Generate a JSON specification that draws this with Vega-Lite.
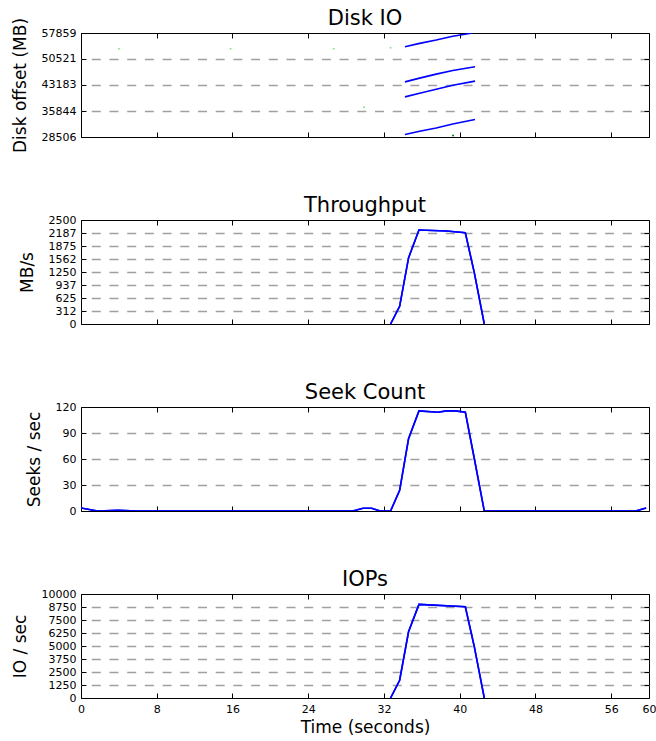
{
  "$schema": "https://vega.github.io/schema/vega-lite/v6.json",
  "padding": {"left": 10, "top": 7, "right": 0, "bottom": 2},
  "bounds": "flush",
  "spacing": 83,
  "config": {
    "font": "DejaVu Sans",
    "view": {"stroke": "#000000", "strokeWidth": 1},
    "axis": {
      "domain": false,
      "tickColor": "#000000",
      "tickSize": -5,
      "tickWidth": 1,
      "labelColor": "#000000",
      "labelFontSize": 11,
      "labelPadding": 10,
      "labelOverlap": false,
      "labelFlush": false,
      "titleFontSize": 17,
      "titleFontWeight": "normal",
      "titleColor": "#000000",
      "titlePadding": 12,
      "gridColor": "#a0a0a0",
      "gridDash": [9, 8.7],
      "gridWidth": 1.4,
      "gridOpacity": 1
    },
    "axisX": {"labelPadding": 10, "titlePadding": 5},
    "title": {"fontSize": 21, "fontWeight": "normal", "color": "#000000", "offset": -2}
  },
  "datasets": {
    "disk": [
      {"t": 34.22, "mb": 29185, "seg": 1}, {"t": 35.77, "mb": 30119, "seg": 1}, {"t": 37.52, "mb": 31053, "seg": 1}, {"t": 39.27, "mb": 32185, "seg": 1}, {"t": 41.62, "mb": 33430, "seg": 1},
      {"t": 34.22, "mb": 39826, "seg": 2}, {"t": 35.77, "mb": 40873, "seg": 2}, {"t": 37.52, "mb": 42005, "seg": 2}, {"t": 39.27, "mb": 43137, "seg": 2}, {"t": 41.62, "mb": 44270, "seg": 2},
      {"t": 34.22, "mb": 44071, "seg": 3}, {"t": 35.77, "mb": 45118, "seg": 3}, {"t": 37.52, "mb": 46250, "seg": 3}, {"t": 39.27, "mb": 47297, "seg": 3}, {"t": 41.62, "mb": 48316, "seg": 3},
      {"t": 34.22, "mb": 53976, "seg": 4}, {"t": 35.77, "mb": 54938, "seg": 4}, {"t": 37.52, "mb": 55872, "seg": 4}, {"t": 39.27, "mb": 56919, "seg": 4}, {"t": 41.2, "mb": 57768, "seg": 4}
    ],
    "dots": [
      {"t": 4.0, "mb": 53410, "kind": "light"}, {"t": 15.8, "mb": 53410, "kind": "light"}, {"t": 26.7, "mb": 53410, "kind": "light"},
      {"t": 32.7, "mb": 53700, "kind": "light"}, {"t": 29.9, "mb": 36911, "kind": "light"}, {"t": 39.3, "mb": 28900, "kind": "dark"}
    ],
    "tp": [
      {"t": 32.7, "v": 0}, {"t": 33.66, "v": 426}, {"t": 34.6, "v": 1590}, {"t": 35.7, "v": 2258}, {"t": 38.6, "v": 2234}, {"t": 40.6, "v": 2193}, {"t": 41.55, "v": 1229}, {"t": 42.6, "v": 0}
    ],
    "seek": [
      {"t": 0, "v": 3.45}, {"t": 1.75, "v": 0}, {"t": 3.9, "v": 0.8}, {"t": 6, "v": 0}, {"t": 28.7, "v": 0}, {"t": 29.8, "v": 3.1}, {"t": 30.7, "v": 3.1}, {"t": 31.6, "v": 0}, {"t": 32.7, "v": 0},
      {"t": 33.66, "v": 23.8}, {"t": 34.6, "v": 83.3}, {"t": 35.7, "v": 115.5}, {"t": 37.7, "v": 113.9}, {"t": 38.6, "v": 115.5}, {"t": 39.55, "v": 115.5}, {"t": 40.6, "v": 113.9},
      {"t": 41.55, "v": 60.3}, {"t": 42.6, "v": 0}, {"t": 58.6, "v": 0}, {"t": 59.7, "v": 3.45}
    ],
    "iops": [
      {"t": 32.7, "v": 0}, {"t": 33.66, "v": 1706}, {"t": 34.6, "v": 6362}, {"t": 35.7, "v": 9004}, {"t": 40.6, "v": 8772}, {"t": 41.55, "v": 4916}, {"t": 42.6, "v": 0}
    ]
  },
  "vconcat": [
    {
      "title": {"text": "Disk IO", "offset": -12},
      "width": 568, "height": 104,
      "layer": [
        {
          "data": {"name": "disk"},
          "mark": {"type": "line", "color": "#0000ff", "strokeWidth": 1.6, "clip": true},
          "encoding": {
            "x": {"field": "t", "type": "quantitative", "scale": {"domain": [0, 60], "nice": false, "zero": false},
                  "axis": {"orient": "bottom", "values": [0, 8, 16, 24, 32, 40, 48, 56, 60], "labels": false, "title": null, "grid": false}},
            "y": {"field": "mb", "type": "quantitative", "scale": {"domain": [28506, 57859], "nice": false, "zero": false},
                  "axis": {"orient": "left", "values": [28506, 35844, 43183, 50521, 57859], "format": "d", "title": "Disk offset (MB)", "grid": false}},
            "detail": {"field": "seg", "type": "nominal"}
          }
        },
        {
          "data": {"name": "dots"},
          "mark": {"type": "point", "filled": true, "size": 4, "opacity": 1},
          "encoding": {
            "x": {"field": "t", "type": "quantitative",
                  "axis": {"orient": "top", "values": [0, 8, 16, 24, 32, 40, 48, 56, 60], "labels": false, "title": null, "grid": false}},
            "y": {"field": "mb", "type": "quantitative",
                  "axis": {"orient": "right", "values": [35844, 43183, 50521], "labels": false, "title": null, "grid": true}},
            "color": {"field": "kind", "type": "nominal", "scale": {"domain": ["light", "dark"], "range": ["#90e090", "#008000"]}, "legend": null}
          }
        }
      ],
      "resolve": {"axis": {"x": "independent", "y": "independent"}}
    },
    {
      "title": {"text": "Throughput"},
      "width": 568, "height": 104,
      "data": {"name": "tp"},
      "layer": [
        {
          "mark": {"type": "line", "color": "#0000ff", "strokeWidth": 1.6, "clip": true},
          "encoding": {
            "x": {"field": "t", "type": "quantitative", "scale": {"domain": [0, 60], "nice": false, "zero": false},
                  "axis": {"orient": "bottom", "values": [0, 8, 16, 24, 32, 40, 48, 56, 60], "labels": false, "title": null, "grid": false}},
            "y": {"field": "v", "type": "quantitative", "scale": {"domain": [0, 2500], "nice": false},
                  "axis": {"orient": "left", "values": [0, 312, 625, 937, 1250, 1562, 1875, 2187, 2500], "format": "d", "title": "MB/s", "grid": false}}
          }
        },
        {
          "mark": {"type": "line", "color": "#0000ff", "strokeWidth": 1.6, "clip": true},
          "encoding": {
            "x": {"field": "t", "type": "quantitative",
                  "axis": {"orient": "top", "values": [0, 8, 16, 24, 32, 40, 48, 56, 60], "labels": false, "title": null, "grid": false}},
            "y": {"field": "v", "type": "quantitative",
                  "axis": {"orient": "right", "values": [312, 625, 937, 1250, 1562, 1875, 2187], "labels": false, "title": null, "grid": true}}
          }
        }
      ],
      "resolve": {"axis": {"x": "independent", "y": "independent"}}
    },
    {
      "title": {"text": "Seek Count"},
      "width": 568, "height": 104,
      "data": {"name": "seek"},
      "layer": [
        {
          "mark": {"type": "line", "color": "#0000ff", "strokeWidth": 1.6, "clip": true},
          "encoding": {
            "x": {"field": "t", "type": "quantitative", "scale": {"domain": [0, 60], "nice": false, "zero": false},
                  "axis": {"orient": "bottom", "values": [0, 8, 16, 24, 32, 40, 48, 56, 60], "labels": false, "title": null, "grid": false}},
            "y": {"field": "v", "type": "quantitative", "scale": {"domain": [0, 120], "nice": false},
                  "axis": {"orient": "left", "values": [0, 30, 60, 90, 120], "format": "d", "title": "Seeks / sec", "grid": false}}
          }
        },
        {
          "mark": {"type": "line", "color": "#0000ff", "strokeWidth": 1.6, "clip": true},
          "encoding": {
            "x": {"field": "t", "type": "quantitative",
                  "axis": {"orient": "top", "values": [0, 8, 16, 24, 32, 40, 48, 56, 60], "labels": false, "title": null, "grid": false}},
            "y": {"field": "v", "type": "quantitative",
                  "axis": {"orient": "right", "values": [30, 60, 90], "labels": false, "title": null, "grid": true}}
          }
        }
      ],
      "resolve": {"axis": {"x": "independent", "y": "independent"}}
    },
    {
      "title": {"text": "IOPs"},
      "width": 568, "height": 104,
      "data": {"name": "iops"},
      "layer": [
        {
          "mark": {"type": "line", "color": "#0000ff", "strokeWidth": 1.6, "clip": true},
          "encoding": {
            "x": {"field": "t", "type": "quantitative", "scale": {"domain": [0, 60], "nice": false, "zero": false},
                  "axis": {"orient": "bottom", "values": [0, 8, 16, 24, 32, 40, 48, 56, 60], "labels": true, "title": "Time (seconds)", "grid": false}},
            "y": {"field": "v", "type": "quantitative", "scale": {"domain": [0, 10000], "nice": false},
                  "axis": {"orient": "left", "values": [0, 1250, 2500, 3750, 5000, 6250, 7500, 8750, 10000], "format": "d", "title": "IO / sec", "grid": false}}
          }
        },
        {
          "mark": {"type": "line", "color": "#0000ff", "strokeWidth": 1.6, "clip": true},
          "encoding": {
            "x": {"field": "t", "type": "quantitative",
                  "axis": {"orient": "top", "values": [0, 8, 16, 24, 32, 40, 48, 56, 60], "labels": false, "title": null, "grid": false}},
            "y": {"field": "v", "type": "quantitative",
                  "axis": {"orient": "right", "values": [1250, 2500, 3750, 5000, 6250, 7500, 8750], "labels": false, "title": null, "grid": true}}
          }
        }
      ],
      "resolve": {"axis": {"x": "independent", "y": "independent"}}
    }
  ]
}
